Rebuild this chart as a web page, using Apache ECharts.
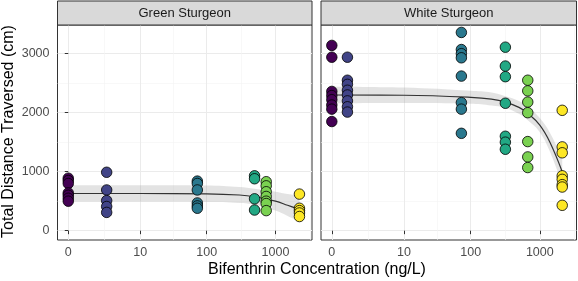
<!DOCTYPE html>
<html><head><meta charset="utf-8">
<script src="https://cdn.jsdelivr.net/npm/echarts@6/dist/echarts.min.js"></script>
<style>html,body{margin:0;padding:0;background:#fff}#c{width:578px;height:281px}</style>
</head><body><div id="c"></div>
<script>
// ---------- data ----------
const facets = ['Green Sturgeon', 'White Sturgeon'];
const xTickValues = [0, 10, 100, 1000];
const xTickLabels = ['0', '10', '100', '1000'];
const yTickValues = [0, 1000, 2000, 3000];
const yTickLabels = ['0', '1000', '2000', '3000'];
const yMinorValues = [500, 1500, 2500];

const greenConc = [0, 2.6, 73, 498, 735, 2228];
const greenValues = [
  [890, 850, 800, 640, 600, 550, 500],
  [990, 690, 510, 410, 310],
  [840, 800, 690, 470, 420, 380],
  [930, 880, 540, 350],
  [830, 760, 660, 580, 500, 460, 340],
  [620, 380, 340, 300, 240]
];
const whiteConc = [0, 0.68, 73, 318, 670, 2108];
const whiteValues = [
  [3140, 2940, 2360, 2290, 2220, 2130, 2060, 1850],
  [2940, 2550, 2480, 2380, 2300, 2200, 2100, 2010],
  [3360, 3070, 3000, 2930, 2620, 2170, 2060, 1650],
  [3110, 2790, 2610, 2160, 1600, 1500, 1380],
  [2550, 2370, 2180, 2000, 1510, 1250, 1070],
  [2040, 1420, 1320, 930, 870, 780, 740, 430]
];

const greenFitConc = [0, 10, 100, 300, 500, 1000, 1500, 2228];
const greenFit     = [630, 630, 625, 605, 575, 500, 430, 360];
const greenLower   = [490, 490, 485, 470, 440, 340, 250, 150];
const greenUpper   = [770, 770, 765, 740, 710, 660, 620, 590];

const whiteFitConc = [0, 10, 100, 200, 318, 500, 670, 1000, 1400, 2108];
const whiteFit     = [2300, 2295, 2260, 2230, 2180, 2090, 1990, 1790, 1500, 1000];
const whiteLower   = [2160, 2165, 2150, 2120, 2080, 1980, 1870, 1670, 1340, 780];
const whiteUpper   = [2440, 2425, 2370, 2340, 2280, 2200, 2110, 1910, 1660, 1220];

// ---------- styling ----------
const palette = ['#440154', '#414487', '#2A788E', '#22A884', '#7AD151', '#FDE725'];
const FONT = '"Liberation Sans", Arial, sans-serif';
const T = c => Math.log10(c + 1);   // pseudo-log scale transform
const X_MIN = -0.156, X_MAX = 3.53, Y_MIN = -158, Y_MAX = 3486;
const xMajor = xTickValues.map(T);
const xMinor = [];
for (let i = 0; i < xMajor.length - 1; i++) xMinor.push((xMajor[i] + xMajor[i + 1]) / 2);
xMinor.push(xMajor[xMajor.length - 1] + (xMajor[xMajor.length - 1] - xMajor[xMajor.length - 2]) / 2);

const panels = [
  { left: 57.5, width: 254.5, conc: greenConc, vals: greenValues, fc: greenFitConc, fit: greenFit, lo: greenLower, up: greenUpper },
  { left: 321, width: 255.5, conc: whiteConc, vals: whiteValues, fc: whiteFitConc, fit: whiteFit, lo: whiteLower, up: whiteUpper }
];
const TOP = 25, HEIGHT = 215;

const grid = [], xAxis = [], yAxis = [], series = [], graphic = [];
panels.forEach((p, gi) => {
  grid.push({ left: p.left, top: TOP, width: p.width, height: HEIGHT, show: true,
    borderColor: '#333333', borderWidth: 1, backgroundColor: '#fff', containLabel: false });
  // major x
  xAxis.push({ type: 'value', gridIndex: gi, min: X_MIN, max: X_MAX, position: 'bottom',
    axisLine: { show: false },
    axisTick: { show: true, length: 3.5, lineStyle: { color: '#333', width: 1 }, customValues: xMajor },
    axisLabel: { show: true, customValues: xMajor, margin: 6, color: '#4D4D4D', fontSize: 12.5, fontFamily: FONT,
      formatter: v => { const i = xMajor.findIndex(m => Math.abs(m - v) < 1e-6); return i >= 0 ? xTickLabels[i] : ''; } },
    splitLine: { show: true, lineStyle: { color: '#EBEBEB', width: 1 } } });
  // minor x
  xAxis.push({ type: 'value', gridIndex: gi, min: X_MIN, max: X_MAX, position: 'top',
    axisLine: { show: false }, axisLabel: { show: false },
    axisTick: { show: false, customValues: xMinor },
    splitLine: { show: true, lineStyle: { color: '#F3F3F3', width: 0.6 } } });
  // major y
  yAxis.push({ type: 'value', gridIndex: gi, min: Y_MIN, max: Y_MAX, position: 'left',
    axisLine: { show: false },
    axisTick: { show: gi === 0, length: 3.5, lineStyle: { color: '#333', width: 1 }, customValues: yTickValues },
    axisLabel: { show: gi === 0, customValues: yTickValues, margin: 8, color: '#4D4D4D', fontSize: 12.5, fontFamily: FONT,
      formatter: v => { const i = yTickValues.indexOf(v); return i >= 0 ? yTickLabels[i] : ''; } },
    splitLine: { show: true, lineStyle: { color: '#EBEBEB', width: 1 } } });
  // minor y
  yAxis.push({ type: 'value', gridIndex: gi, min: Y_MIN, max: Y_MAX, position: 'right',
    axisLine: { show: false }, axisLabel: { show: false },
    axisTick: { show: false, customValues: yMinorValues },
    splitLine: { show: true, lineStyle: { color: '#F3F3F3', width: 0.6 } } });

  const xi = gi * 2, yi = gi * 2;
  // confidence band: stacked lower + (upper-lower); value column first so it is the stacked dimension
  series.push({ type: 'line', xAxisIndex: xi, yAxisIndex: yi, stack: 'band' + gi, smooth: 0.4,
    symbol: 'none', lineStyle: { opacity: 0 }, silent: true, z: 1, encode: { x: 1, y: 0 },
    data: p.fc.map((c, i) => [p.lo[i], T(c)]) });
  series.push({ type: 'line', xAxisIndex: xi, yAxisIndex: yi, stack: 'band' + gi, smooth: 0.4,
    symbol: 'none', lineStyle: { opacity: 0 }, areaStyle: { color: 'rgba(153,153,153,0.4)' }, silent: true, z: 1,
    encode: { x: 1, y: 0 },
    data: p.fc.map((c, i) => [p.up[i] - p.lo[i], T(c)]) });
  // fitted curve
  series.push({ type: 'line', xAxisIndex: xi, yAxisIndex: yi, smooth: 0.4, symbol: 'none', z: 2,
    lineStyle: { color: '#333333', width: 1.2 },
    data: p.fc.map((c, i) => [T(c), p.fit[i]]) });
  // points
  p.conc.forEach((c, k) => {
    series.push({ type: 'scatter', xAxisIndex: xi, yAxisIndex: yi, z: 3, symbol: 'circle', symbolSize: 10.5,
      itemStyle: { color: palette[k], borderColor: '#000', borderWidth: 0.8, opacity: 1 },
      data: p.vals[k].map(v => [T(c), v]) });
  });

  // strip
  graphic.push({ type: 'rect', shape: { x: p.left, y: 1, width: p.width, height: TOP - 1 },
    style: { fill: '#D9D9D9', stroke: '#333333', lineWidth: 1 }, z: 10 });
  graphic.push({ type: 'text', x: p.left + p.width / 2, y: 13.5,
    style: { text: facets[gi], fill: '#1A1A1A', fontSize: 13, fontFamily: FONT, align: 'center', verticalAlign: 'middle' }, z: 11 });
});

graphic.push({ type: 'text', x: 317, y: 270,
  style: { text: 'Bifenthrin Concentration (ng/L)', fill: '#000', fontSize: 16, fontFamily: FONT, align: 'center', verticalAlign: 'middle' } });
graphic.push({ type: 'text', x: 9, y: 131.5, rotation: Math.PI / 2,
  style: { text: 'Total Distance Traversed (cm)', fill: '#000', fontSize: 16, fontFamily: FONT, align: 'center', verticalAlign: 'middle' } });

const chart = echarts.init(document.getElementById('c'), null, { renderer: 'canvas' });
chart.setOption({ animation: false, backgroundColor: '#fff', grid, xAxis, yAxis, series, graphic });
</script></body></html>
